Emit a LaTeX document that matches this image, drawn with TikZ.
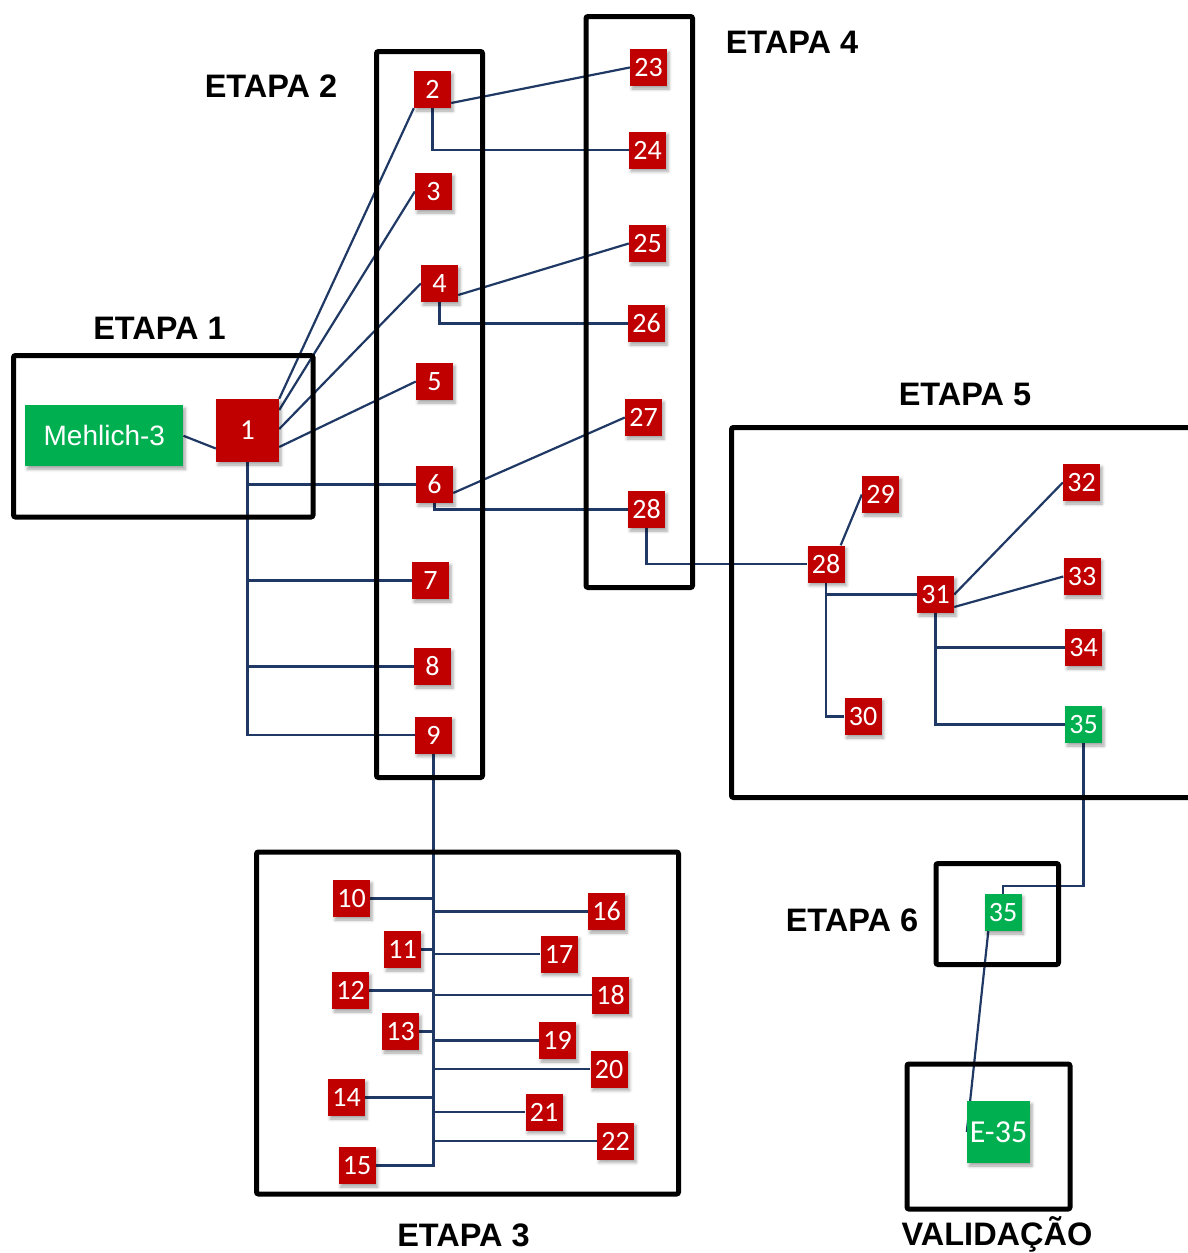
\documentclass[tikz,border=0pt]{standalone}
\usepackage{fontspec}
\setmainfont{Liberation Sans}
\newfontfamily\numfont{Carlito}
\usetikzlibrary{calc,shadows.blur}
\definecolor{boxred}{RGB}{192,0,0}
\definecolor{boxgreen}{RGB}{0,176,80}
\definecolor{linkblue}{RGB}{31,56,100}
\pgfdeclarelayer{links}
\pgfsetlayers{links,main}
\begin{document}
\begin{tikzpicture}[x=1pt,y=-1pt,
  stage/.style={draw=black, line width=5pt, rounded corners=2pt},
  stagelabel/.style={font=\fontsize{32.5}{32.5}\selectfont\bfseries, inner sep=0pt},
  shade/.style={blur shadow={shadow xshift=2pt, shadow yshift=-3pt, shadow opacity=35, shadow blur radius=3pt}},
  sample/.style={fill=boxred, text=white, minimum size=37pt, inner sep=0pt,
    font=\numfont\fontsize{28}{28}\selectfont, shade},
  final/.style={sample, fill=boxgreen},
  link/.style={draw=linkblue, line width=2.2pt}
]
\useasboundingbox (0,0) rectangle (1187,1253);

% stage frames
\draw[stage] (13.5,355.5) rectangle (313,517);
\draw[stage] (376.5,51.5) rectangle (482.5,777.5);
\draw[stage] (586,16.5) rectangle (692.5,587.5);
\draw[stage] (256.5,852) rectangle (678.5,1194);
\draw[stage] (731.5,427.5) rectangle (1195,797.5);
\draw[stage] (936,863.5) rectangle (1058.5,964.5);
\draw[stage] (907,1064) rectangle (1070,1209);

% stage titles
\node[stagelabel] (l1) at (159.5,328) {ETAPA 1};
\node[stagelabel] (l2) at (271,86) {ETAPA 2};
\node[stagelabel] (l3) at (463.5,1235) {ETAPA 3};
\node[stagelabel] (l4) at (792,42) {ETAPA 4};
\node[stagelabel] (l5) at (965,394) {ETAPA 5};
\node[stagelabel] (l6) at (852,920) {ETAPA 6};
\node[stagelabel, anchor=base] (lv) at (997,1245) {VALIDAÇÃO};

% stage 1
\node[fill=boxgreen, text=white, minimum width=158pt, minimum height=61pt, inner sep=0pt,
  font=\fontsize{28}{28}\selectfont, shade] (meh) at (104.3,435.8) {Mehlich-3};
\node[sample, minimum size=63pt, font=\numfont\fontsize{29}{29}\selectfont] (n1) at (247.5,430.5) {1};

% stage 2
\node[sample] (n2) at (432.5,89.5) {2};
\node[sample] (n3) at (433.5,191.5) {3};
\node[sample] (n4) at (439.5,283.5) {4};
\node[sample] (n5) at (434.5,381.5) {5};
\node[sample] (n6) at (434.5,484.5) {6};
\node[sample] (n7) at (430.5,580.5) {7};
\node[sample] (n8) at (432.5,666.5) {8};
\node[sample] (n9) at (433.5,735) {9};

% stage 4
\node[sample] (n23) at (648.5,67.5) {23};
\node[sample] (n24) at (647.5,150) {24};
\node[sample] (n25) at (647.5,243.5) {25};
\node[sample] (n26) at (646.5,323.5) {26};
\node[sample] (n27) at (643.5,417.5) {27};
\node[sample] (n28a) at (646.5,509.5) {28};

% stage 3
\node[sample] (n10) at (351.5,898.5) {10};
\node[sample] (n11) at (402.5,949.5) {11};
\node[sample] (n12) at (350.5,990.5) {12};
\node[sample] (n13) at (400.5,1031.5) {13};
\node[sample] (n14) at (346.5,1097.5) {14};
\node[sample] (n15) at (357,1165.5) {15};
\node[sample] (n16) at (606.5,911.5) {16};
\node[sample] (n17) at (559,954) {17};
\node[sample] (n18) at (610.5,995) {18};
\node[sample] (n19) at (557.5,1040.5) {19};
\node[sample] (n20) at (609,1069) {20};
\node[sample] (n21) at (544,1112) {21};
\node[sample] (n22) at (615.5,1141) {22};

% stage 5
\node[sample] (n28b) at (826,564) {28};
\node[sample] (n29) at (880.5,494.5) {29};
\node[sample] (n30) at (863,716.5) {30};
\node[sample] (n31) at (935.5,594.5) {31};
\node[sample] (n32) at (1081.5,482.5) {32};
\node[sample] (n33) at (1082,576.5) {33};
\node[sample] (n34) at (1083.5,647.5) {34};
\node[final] (n35a) at (1083.5,724.5) {35};

% stage 6 and validation
\node[final] (n35b) at (1003,912.5) {35};
\node[final, minimum width=63pt, minimum height=62pt, font=\numfont\fontsize{32}{32}\selectfont] (e35) at (998.5,1132) {E-35};

% connectors
\begin{pgfonlayer}{links}
\draw[link] (meh.east) -- ($(n1.west)+(0,18)$);
\draw[link] (n1.north east) -- (n2.south west);
\draw[link] ($(n1.east)+(0,-20.5)$) -- (n3.west);
\draw[link] ($(n1.east)+(0,-1.5)$) -- (n4.west);
\draw[link] ($(n1.east)+(0,16.5)$) -- (n5.west);
\draw[link] (n1.south) -- (n1.south |- n9.west) -- (n9.west);
\foreach \k in {6,7,8} \draw[link] (n1.south |- n\k.west) -- (n\k.west);

\draw[link] ($(n2.east)+(0,13.5)$) -- (n23.west);
\draw[link] (n2.south) |- (n24.west);
\draw[link] ($(n4.east)+(0,11.5)$) -- (n25.west);
\draw[link] (n4.south) |- (n26.west);
\draw[link] ($(n6.east)+(0,8.5)$) -- (n27.west);
\draw[link] (n6.south) |- (n28a.west);

\draw[link] (n9.south) |- (n15.east);
\foreach \k in {10,11,12,13,14} \draw[link] (n\k.east) -- (n\k.east -| n9.south);
\foreach \k in {16,17,18,19,20,21,22} \draw[link] (n9.south |- n\k.west) -- (n\k.west);

\draw[link] (n28a.south) |- (n28b.west);
\draw[link] ($(n28b.north east)+(-4,0)$) -- (n29.west);
\draw[link] (n28b.south) |- (n30.west);
\draw[link] (n28b.south |- n31.west) -- (n31.west);
\draw[link] (n31.east) -- (n32.west);
\draw[link] ($(n31.east)+(0,12.5)$) -- (n33.west);
\draw[link] (n31.south) |- (n35a.west);
\draw[link] (n31.south |- n34.west) -- (n34.west);

\draw[link] (n35a.south) |- ($(n35b.north)+(0,-8)$) -- (n35b.north);
\draw[link] ($(n35b.south west)+(4,0)$) -- (e35.west);
\end{pgfonlayer}
\end{tikzpicture}
\end{document}
